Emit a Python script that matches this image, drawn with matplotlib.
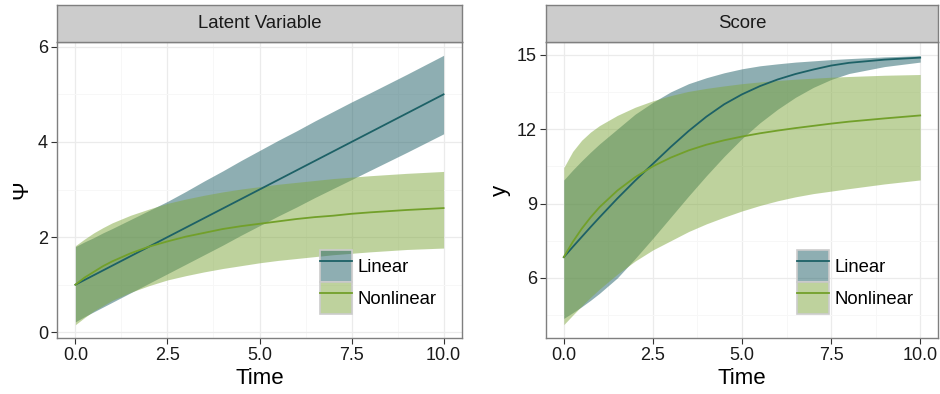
import matplotlib
matplotlib.use('Agg')
import matplotlib.pyplot as plt
from matplotlib.patches import Patch
from matplotlib.lines import Line2D
from matplotlib.legend_handler import HandlerTuple
from matplotlib.ticker import MultipleLocator

plt.rcParams['font.family'] = ['Liberation Sans', 'DejaVu Sans']

# values
time = [0, 0.25, 0.5, 0.75, 1, 1.5, 2, 2.5, 3, 3.5, 4, 4.5, 5, 5.5, 6, 6.5, 7, 7.5, 8, 9, 10]

# latent variable (Psi)
lin_psi = [1.0, 1.1, 1.2, 1.3, 1.4, 1.6, 1.8, 2.0, 2.2, 2.4, 2.6, 2.8, 3.0, 3.2, 3.4, 3.6, 3.8, 4.0, 4.2, 4.6, 5.0]
lin_psi_lo = [0.22, 0.33, 0.43, 0.53, 0.63, 0.83, 1.03, 1.23, 1.43, 1.63, 1.83, 2.04, 2.24, 2.44, 2.63, 2.83, 3.02, 3.21, 3.40, 3.78, 4.17]
lin_psi_hi = [1.80, 1.90, 1.99, 2.09, 2.18, 2.37, 2.56, 2.75, 2.96, 3.18, 3.39, 3.61, 3.82, 4.03, 4.23, 4.44, 4.64, 4.84, 5.03, 5.42, 5.82]
nl_psi = [1.0, 1.15, 1.27, 1.39, 1.49, 1.66, 1.80, 1.91, 2.01, 2.09, 2.17, 2.23, 2.28, 2.33, 2.38, 2.42, 2.45, 2.49, 2.52, 2.57, 2.61]
nl_psi_lo = [0.16, 0.31, 0.45, 0.56, 0.67, 0.84, 0.98, 1.10, 1.19, 1.27, 1.34, 1.40, 1.46, 1.51, 1.55, 1.59, 1.63, 1.66, 1.69, 1.74, 1.77]
nl_psi_hi = [1.82, 1.96, 2.09, 2.20, 2.30, 2.46, 2.59, 2.71, 2.80, 2.88, 2.95, 3.01, 3.06, 3.11, 3.15, 3.19, 3.23, 3.26, 3.29, 3.34, 3.38]

# score (y)
lin_y = [6.84, 7.25, 7.65, 8.05, 8.44, 9.20, 9.92, 10.60, 11.28, 11.92, 12.50, 13.00, 13.40, 13.73, 14.00, 14.22, 14.40, 14.56, 14.67, 14.80, 14.88]
lin_y_lo = [4.37, 4.60, 4.84, 5.10, 5.38, 6.00, 6.78, 7.60, 8.45, 9.30, 10.12, 10.90, 11.62, 12.25, 12.80, 13.28, 13.68, 14.00, 14.24, 14.52, 14.70]
lin_y_hi = [9.95, 10.35, 10.72, 11.07, 11.40, 12.00, 12.60, 13.08, 13.50, 13.83, 14.07, 14.27, 14.43, 14.55, 14.63, 14.70, 14.75, 14.80, 14.84, 14.91, 14.96]
nl_y = [6.84, 7.45, 7.98, 8.44, 8.85, 9.52, 10.06, 10.50, 10.85, 11.14, 11.37, 11.55, 11.70, 11.83, 11.94, 12.04, 12.13, 12.22, 12.30, 12.43, 12.55]
nl_y_lo = [4.12, 4.50, 4.87, 5.22, 5.55, 6.15, 6.68, 7.13, 7.50, 7.87, 8.18, 8.45, 8.70, 8.92, 9.11, 9.27, 9.40, 9.50, 9.60, 9.79, 9.95]
nl_y_hi = [10.45, 11.10, 11.55, 11.88, 12.14, 12.55, 12.88, 13.14, 13.35, 13.52, 13.64, 13.74, 13.83, 13.90, 13.96, 14.01, 14.05, 14.09, 14.12, 14.17, 14.20]

series_names = ['Linear', 'Nonlinear']

lin_col = '#1d6166'
nl_col = '#72a02a'
lin_fill = '#1f5f66'
nl_fill = '#7fa73d'

W, H = 940, 394
fig = plt.figure(figsize=(W / 100, H / 100), dpi=100)


def draw_panel(x0, x1, title, ylabel, lin, lo1, hi1, nl, lo2, hi2, ylim, ymaj, leg_x):
    top, bot = 42, 338
    ax = fig.add_axes([x0 / W, 1 - bot / H, (x1 - x0) / W, (bot - top) / H])
    ax.fill_between(time, lo1, hi1, color=lin_fill, alpha=0.5, lw=0, zorder=2)
    ax.fill_between(time, lo2, hi2, color=nl_fill, alpha=0.5, lw=0, zorder=2)
    ax.plot(time, lin, color=lin_col, lw=1.3, zorder=3)
    ax.plot(time, nl, color=nl_col, lw=1.3, zorder=3)

    ax.set_xlim(-0.5, 10.5)
    ax.set_ylim(*ylim)
    ax.xaxis.set_minor_locator(MultipleLocator(1.25))
    ax.yaxis.set_major_locator(MultipleLocator(ymaj))
    ax.yaxis.set_minor_locator(MultipleLocator(ymaj / 2))
    ax.set_xticks([0, 2.5, 5, 7.5, 10])
    ax.set_xticklabels(['0.0', '2.5', '5.0', '7.5', '10.0'])
    ax.grid(which='major', color='#ebebeb', lw=0.9, zorder=0)
    ax.grid(which='minor', color='#f7f7f7', lw=0.7, zorder=0)
    ax.set_axisbelow(True)
    ax.tick_params(which='major', length=4, width=0.8, color='#333333',
                   labelsize=13, labelcolor='#1a1a1a', pad=2.5)
    ax.tick_params(which='minor', length=0)
    for s in ax.spines.values():
        s.set_color('#7f7f7f')
        s.set_linewidth(1.0)
    ax.set_xlabel('Time', fontsize=16, labelpad=3)
    ax.set_ylabel(ylabel, fontsize=16, labelpad=4)

    handles = [
        (Patch(facecolor=lin_fill + '80', edgecolor='#cccccc', lw=1.2),
         Line2D([], [], color=lin_col, lw=1.3)),
        (Patch(facecolor=nl_fill + '80', edgecolor='#cccccc', lw=1.2),
         Line2D([], [], color=nl_col, lw=1.3)),
    ]
    ax.legend(handles, series_names, handler_map={tuple: HandlerTuple(ndivide=1)},
              loc='lower left', bbox_to_anchor=((leg_x - x0) / (x1 - x0), 24 / (bot - top)),
              frameon=False, fontsize=13.3, handlelength=1.75, handleheight=2.28,
              labelspacing=0.0, handletextpad=0.28, borderpad=0, borderaxespad=0)

    strip = fig.add_axes([x0 / W, 1 - top / H, (x1 - x0) / W, 37 / H])
    strip.set_facecolor('#cccccc')
    strip.set_xticks([])
    strip.set_yticks([])
    for s in strip.spines.values():
        s.set_color('#7f7f7f')
        s.set_linewidth(1.0)
    strip.text(0.5, 0.5, title, ha='center', va='center', fontsize=13.4, color='#1a1a1a',
               transform=strip.transAxes)
    return ax


draw_panel(57, 462, 'Latent Variable', 'Ψ', lin_psi, lin_psi_lo, lin_psi_hi,
           nl_psi, nl_psi_lo, nl_psi_hi, (-0.12, 6.1), 2, 320)
draw_panel(546, 938, 'Score', 'y', lin_y, lin_y_lo, lin_y_hi,
           nl_y, nl_y_lo, nl_y_hi, (3.58, 15.51), 3, 797)

fig.savefig('out.png', dpi=100)
